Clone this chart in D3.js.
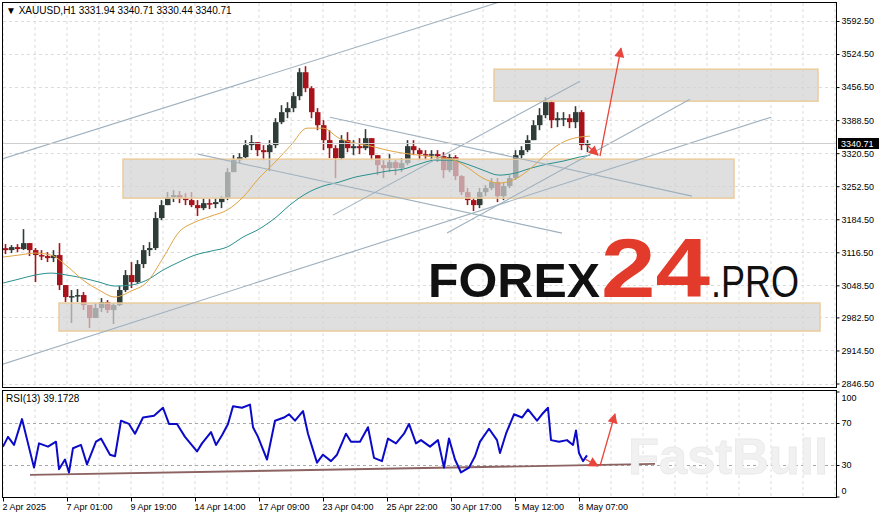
<!DOCTYPE html>
<html><head><meta charset="utf-8">
<script src="https://cdn.jsdelivr.net/npm/d3@7"></script>
<style>body{margin:0;background:#fff}svg{display:block}text{font-family:"Liberation Sans",Arial,sans-serif}</style>
</head><body><svg id="c" width="883" height="518"></svg>
<script>
// ---------- data ----------
const groupSize = 6;           // bars per drawn candle
const firstOpen = 3125.0;
const candleHigh = [3133.4,3131.3,3133.4,3164.2,3131.3,3125.2,3121.0,3116.9,3121.0,3135.4,
3042.9,3038.8,3040.8,3034.7,3007.9,3012.1,3022.3,3018.2,3012.1,3047.0,
3079.9,3096.4,3100.5,3131.3,3137.5,3199.2,3223.9,3240.3,3244.4,3242.4,
3238.3,3240.3,3223.9,3228.0,3225.9,3228.0,3232.1,3289.7,3316.4,3320.5,
3347.3,3357.6,3343.2,3337.0,3347.3,3392.5,3419.3,3425.4,3446.0,3495.4,
3499.5,3458.3,3413.1,3388.4,3367.8,3337.0,3357.6,3363.7,3347.3,3351.4,
3369.9,3351.4,3316.4,3306.1,3318.5,3306.1,3310.3,3347.3,3347.3,3330.8,
3326.7,3326.7,3326.7,3322.6,3318.5,3316.4,3275.3,3248.6,3228.0,3248.6,
3254.7,3269.1,3269.1,3260.9,3275.3,3326.7,3334.9,3357.6,3388.4,3413.1,
3435.7,3429.5,3404.9,3404.9,3400.7,3417.2,3409.0,3347.3];
const candleLow = [3112.8,3114.9,3116.9,3121.0,3108.7,3055.2,3100.5,3096.4,3096.4,3038.8,
3014.1,2970.9,3014.1,2997.7,2960.6,2981.2,2993.5,2991.5,2968.9,3005.9,
3034.7,3042.9,3051.1,3084.0,3108.7,3121.0,3182.7,3213.6,3219.8,3217.7,
3213.6,3209.5,3191.0,3203.3,3205.4,3207.4,3207.4,3223.9,3281.5,3300.0,
3310.3,3326.7,3314.4,3306.1,3283.5,3330.8,3380.2,3392.5,3404.9,3429.5,
3446.0,3392.5,3367.8,3326.7,3310.3,3269.1,3306.1,3322.6,3316.4,3318.5,
3326.7,3306.1,3275.3,3269.1,3281.5,3275.3,3281.5,3295.9,3316.4,3306.1,
3306.1,3306.1,3302.0,3269.1,3281.5,3265.0,3234.2,3213.6,3201.3,3207.4,
3232.1,3244.4,3219.8,3223.9,3248.6,3265.0,3310.3,3322.6,3347.3,3367.8,
3392.5,3372.0,3374.0,3376.1,3372.0,3372.0,3326.7,3322.6];
const candleClose = [3121.0,3127.2,3123.1,3135.4,3121.0,3110.8,3108.7,3104.6,3110.8,3049.1,
3024.4,3026.4,3028.5,3007.9,2981.2,3001.8,3014.1,2997.7,3007.9,3038.8,
3069.6,3055.2,3092.3,3121.0,3125.2,3186.9,3213.6,3230.0,3234.2,3228.0,
3223.9,3213.6,3207.4,3217.7,3215.7,3219.8,3228.0,3281.5,3306.1,3312.3,
3337.0,3343.2,3326.7,3322.6,3337.0,3384.3,3404.9,3413.1,3437.8,3487.1,
3454.2,3404.9,3378.1,3347.3,3330.8,3310.3,3347.3,3330.8,3334.9,3330.8,
3351.4,3316.4,3295.9,3289.7,3302.0,3289.7,3300.0,3334.9,3326.7,3318.5,
3316.4,3318.5,3314.4,3285.6,3312.3,3273.2,3240.3,3223.9,3213.6,3240.3,
3248.6,3260.9,3232.1,3252.7,3269.1,3316.4,3326.7,3347.3,3378.1,3398.7,
3425.4,3388.4,3392.5,3392.5,3384.3,3404.9,3337.0,3340.71];

const maBars = [0,16,32,48,64,80,96,112,128,144,160,176,192,208,224,240,256,272,288,304,
320,336,352,368,384,400,416,432,448,464,480,496,512,528,544,560,576,587];
const maFast = [3106.7,3110.8,3114.9,3110.8,3088.1,3059.4,3038.8,3024.4,3036.7,3055.2,
3104.6,3158.1,3178.6,3191.0,3203.3,3230.0,3269.1,3302.0,3337.0,3372.0,
3372.0,3351.4,3341.1,3334.9,3326.7,3320.5,3316.4,3312.3,3308.2,3291.7,
3269.1,3258.8,3267.1,3289.7,3320.5,3343.2,3353.4,3355.5];
const maSlow = [3053.2,3061.4,3069.6,3073.7,3069.6,3063.5,3055.2,3047.0,3049.1,3059.4,
3079.9,3096.4,3110.8,3119.0,3127.2,3147.8,3164.2,3186.9,3215.7,3238.3,
3252.7,3260.9,3271.2,3277.4,3283.5,3287.6,3297.9,3306.1,3306.1,3297.9,
3285.6,3275.3,3279.4,3289.7,3297.9,3304.1,3312.3,3316.4];

const rsiBars = [0,5,11,19,25,31,36,45,53,56,62,66,70,78,84,93,98,107,112,118,
126,132,140,151,160,166,174,182,194,199,208,213,219,225,230,239,247,250,255,264,
272,281,286,292,300,305,309,314,320,328,334,343,348,357,365,371,379,385,393,401,
406,413,418,427,435,441,446,452,458,466,472,477,486,494,497,503,511,519,525,534,
539,545,548,556,564,570,573,576,580,584];
const rsiValues = [47.5,56.8,49.1,73.7,50.6,27.5,50.6,47.5,52.2,26,
35.2,22.9,46,49.1,30.6,52.2,55.2,39.8,38.3,72.2,
69.1,59.8,75.2,76.8,84.5,69.1,69.1,56.8,42.9,50.6,
61.4,49.1,58.3,69.1,86,84.5,87.5,66,56.8,35.2,
72.2,75.2,78.3,72.2,81.4,59.8,47.5,32.2,39.8,33.7,
39.8,59.8,52.2,52.2,66,36.8,33.7,55.2,50.6,59.8,
69.1,50.6,53.7,47.5,53.7,27.5,55.2,35.2,22.9,27.5,
38.3,52.2,64.5,53.7,41.4,59.8,78.3,75.2,82.9,72.2,
78.3,84.5,53.7,52.2,53.7,49.1,62.9,41.4,33.7,39.17];

const priceTicks = [3592.5,3524.5,3456.5,3388.5,3320.5,3252.5,3184.5,3116.5,3048.5,2982.5,2914.5,2846.5];
const rsiTicks = [100,70,30,0];
const rsiLevels = [70,30];
const timeTickBars = [0,64,128,192,256,320,384,448,512,576];
const timeTickLabels = ["2 Apr 2025","7 Apr 01:00","9 Apr 19:00","14 Apr 14:00","17 Apr 09:00",
  "23 Apr 04:00","25 Apr 22:00","30 Apr 17:00","5 May 12:00","8 May 07:00"];

// zones: [startBar, endBar, topPrice, bottomPrice]
const zoneStart = [491,120,56];
const zoneEnd = [815,731,817];
const zoneTop = [3493.3,3308.2,3012.1];
const zoneBottom = [3427.5,3228.0,2954.5];

// trend lines: [bar0, price0, bar1, price1]
const trendLines = [[-3,3307.2,497,3631.9],[-3,2884.5,768,3394.6],[195,3318.5,559,3156.0],
  [327,3394.6,689,3232.1],[330,3193.0,577,3468.6],[444,3156.0,687,3431.6]];
const priceArrows = [[584,3337.0,595,3316.4],[597,3314.4,618,3536.5]];
const rsiArrows = [[582,35.7,595,29],[597,29,612,78.6]];
const rsiTrend = [27,20.5,652,31];
const lastPrice = 3340.71;

// ---------- drawing ----------
const svg = d3.select('#c');
const x = d3.scaleLinear().domain([0,833]).range([3,836]);
const y = d3.scaleLinear().domain([2846.5,3592.5]).range([383.5,21]);
const yr = d3.scaleLinear().domain([0,100]).range([496.5,391.5]);

const defs = svg.append('defs');
defs.append('clipPath').attr('id','cm').append('rect').attr('x',3).attr('y',3).attr('width',833).attr('height',384);
defs.append('clipPath').attr('id','cr').append('rect').attr('x',3).attr('y',391).attr('width',833).attr('height',106);
defs.append('marker').attr('id','ah').attr('viewBox','0 0 10 10').attr('refX',9).attr('refY',5)
  .attr('markerWidth',13).attr('markerHeight',10).attr('markerUnits','userSpaceOnUse').attr('orient','auto')
  .append('path').attr('d','M0,0L10,5L0,10z').attr('fill','#e8453c');

const gridColor = '#dcdcdc';
const main = svg.append('g').attr('clip-path','url(#cm)');
const rsiG = svg.append('g').attr('clip-path','url(#cr)');

// grid
const vGrid = d3.range(0,834,32);
main.selectAll('.vg').data(vGrid).join('line').attr('x1',d=>x(d)).attr('x2',d=>x(d)).attr('y1',3).attr('y2',387)
  .attr('stroke',gridColor).attr('stroke-dasharray','3,3');
main.selectAll('.hg').data(priceTicks).join('line').attr('x1',3).attr('x2',836).attr('y1',d=>Math.round(y(d))+0.5).attr('y2',d=>Math.round(y(d))+0.5)
  .attr('stroke',gridColor).attr('stroke-dasharray','3,3');
rsiG.selectAll('.vg').data(vGrid).join('line').attr('x1',d=>x(d)).attr('x2',d=>x(d)).attr('y1',391).attr('y2',497)
  .attr('stroke',gridColor).attr('stroke-dasharray','3,3');
rsiG.selectAll('.lv').data(rsiLevels).join('line').attr('x1',3).attr('x2',836).attr('y1',d=>Math.round(yr(d))+0.5).attr('y2',d=>Math.round(yr(d))+0.5)
  .attr('stroke','#a8a8a8').attr('stroke-dasharray','3,3');

// candles
const candles = candleClose.map((c,i)=>{
  const o = i===0 ? firstOpen : candleClose[i-1];
  return {i, o, c, h: Math.max(candleHigh[i],o,c), l: Math.min(candleLow[i],o,c)};
});
const bull = '#2f3d38', bear = '#a8121a';
const cg = main.append('g');
cg.selectAll('line').data(candles).join('line')
  .attr('x1',d=>x(d.i*groupSize+2.5)).attr('x2',d=>x(d.i*groupSize+2.5))
  .attr('y1',d=>y(d.h)).attr('y2',d=>y(d.l))
  .attr('stroke',d=>d.c>=d.o?bull:bear).attr('stroke-width',1.6);
cg.selectAll('rect').data(candles).join('rect')
  .attr('x',d=>x(d.i*groupSize)).attr('width',groupSize-0.5)
  .attr('y',d=>y(Math.max(d.o,d.c))).attr('height',d=>Math.max(1.5,Math.abs(y(d.o)-y(d.c))))
  .attr('fill',d=>d.c>=d.o?bull:bear);

// zones
main.selectAll('.zone').data(zoneStart).join('rect')
  .attr('x',(d,i)=>x(zoneStart[i])).attr('width',(d,i)=>x(zoneEnd[i])-x(zoneStart[i]))
  .attr('y',(d,i)=>y(zoneTop[i])).attr('height',(d,i)=>y(zoneBottom[i])-y(zoneTop[i]))
  .attr('fill','#d3d3d3').attr('fill-opacity',0.72).attr('stroke','#ebcc9c').attr('stroke-width',1.5);

// moving averages
const lineGen = d3.line().x(d=>x(d[0])).y(d=>y(d[1])).curve(d3.curveMonotoneX);
main.append('path').attr('d',lineGen(maBars.map((b,i)=>[b,maSlow[i]]))).attr('fill','none').attr('stroke','#2a9090').attr('stroke-width',1);
main.append('path').attr('d',lineGen(maBars.map((b,i)=>[b,maFast[i]]))).attr('fill','none').attr('stroke','#e0a546').attr('stroke-width',1);

// trend lines
main.selectAll('.tl').data(trendLines).join('line')
  .attr('x1',d=>x(d[0])).attr('y1',d=>y(d[1])).attr('x2',d=>x(d[2])).attr('y2',d=>y(d[3]))
  .attr('stroke','#9fb1bf').attr('stroke-width',1.1);

// bid line
main.append('line').attr('x1',3).attr('x2',836).attr('y1',Math.round(y(lastPrice))+0.5).attr('y2',Math.round(y(lastPrice))+0.5)
  .attr('stroke','#cfcfcf');

// arrows
main.selectAll('.ar').data(priceArrows).join('line')
  .attr('x1',d=>x(d[0])).attr('y1',d=>y(d[1])).attr('x2',d=>x(d[2])).attr('y2',d=>y(d[3]))
  .attr('stroke','#e8453c').attr('stroke-width',1.3).attr('marker-end','url(#ah)');

// RSI
rsiG.append('line').attr('x1',x(rsiTrend[0])).attr('y1',yr(rsiTrend[1])).attr('x2',x(rsiTrend[2])).attr('y2',yr(rsiTrend[3]))
  .attr('stroke','#8c6262').attr('stroke-width',1.8);
const rsiLine = d3.line().x(d=>x(d[0])).y(d=>yr(d[1]));
rsiG.append('path').attr('d',rsiLine(rsiBars.map((b,i)=>[b,rsiValues[i]]))).attr('fill','none')
  .attr('stroke','#0a0ac8').attr('stroke-width',2).attr('stroke-linejoin','round');
rsiG.selectAll('.ar').data(rsiArrows).join('line')
  .attr('x1',d=>x(d[0])).attr('y1',d=>yr(d[1])).attr('x2',d=>x(d[2])).attr('y2',d=>yr(d[3]))
  .attr('stroke','#e8453c').attr('stroke-width',1.3).attr('marker-end','url(#ah)');

// watermark FastBull
svg.append('text').attr('x',628).attr('y',474).text('FastBull')
  .attr('font-size',50).attr('font-weight','bold').attr('fill','#f1f1f1').attr('stroke','#e9e9e9').attr('stroke-width',0.8)
  .attr('textLength',200).attr('lengthAdjust','spacingAndGlyphs');

// frames
svg.append('rect').attr('x',2.5).attr('y',2.5).attr('width',834).attr('height',385).attr('fill','none').attr('stroke','#000');
svg.append('rect').attr('x',2.5).attr('y',390.5).attr('width',834).attr('height',107).attr('fill','none').attr('stroke','#000');

// axes
const pa = svg.append('g').attr('transform','translate(836.5,0)')
  .call(d3.axisRight(y).tickValues(priceTicks).tickFormat(d3.format('.2f')).tickSize(3).tickPadding(2));
pa.select('.domain').remove();
pa.selectAll('text').attr('font-size',9).attr('font-family','"Liberation Sans",Arial,sans-serif');
pa.selectAll('line').attr('stroke','#000');

const ra = svg.append('g').attr('transform','translate(836.5,0)')
  .call(d3.axisRight(yr).tickValues(rsiTicks).tickSize(3).tickPadding(2));
ra.select('.domain').remove();
ra.selectAll('text').attr('font-size',9).attr('font-family','"Liberation Sans",Arial,sans-serif')
  .attr('dy',d=>d===100?'1.0em':(d===0?'-0.3em':'0.32em'));
ra.selectAll('line').attr('stroke','#000');

const ta = svg.append('g').attr('transform','translate(0,497.5)')
  .call(d3.axisBottom(x).tickValues(timeTickBars).tickFormat((d,i)=>timeTickLabels[i]).tickSize(4).tickPadding(2));
ta.select('.domain').remove();
ta.selectAll('text').attr('font-size',9).attr('text-anchor','start').attr('dx',-1).attr('font-family','"Liberation Sans",Arial,sans-serif');
ta.selectAll('line').attr('stroke','#000');

// last price box
const lp = svg.append('g').attr('transform',`translate(838,${Math.round(y(lastPrice))-5})`);
lp.append('rect').attr('width',41).attr('height',11).attr('fill','#000');
lp.append('text').attr('x',3).attr('y',9).attr('fill','#fff').attr('font-size',9).text(d3.format('.2f')(lastPrice));

// header text
svg.append('text').attr('x',6).attr('y',14).attr('font-size',10).text('\u25BC XAUUSD,H1  3331.94 3340.71 3330.44 3340.71');
svg.append('text').attr('x',6).attr('y',402).attr('font-size',10).text('RSI(13) 39.1728');

// FOREX24.PRO watermark
svg.append('text').attr('x',428).attr('y',297).text('FOREX').attr('font-size',49).attr('font-weight','bold')
  .attr('fill','#111').attr('textLength',172).attr('lengthAdjust','spacingAndGlyphs');
svg.append('text').attr('x',601).attr('y',297).text('24').attr('font-size',84).attr('font-weight','bold')
  .attr('fill','#e23b2b').attr('textLength',109).attr('lengthAdjust','spacingAndGlyphs');
svg.append('text').attr('x',711).attr('y',297).text('.PRO').attr('font-size',44)
  .attr('fill','#111').attr('textLength',88).attr('lengthAdjust','spacingAndGlyphs');
</script></body></html>
